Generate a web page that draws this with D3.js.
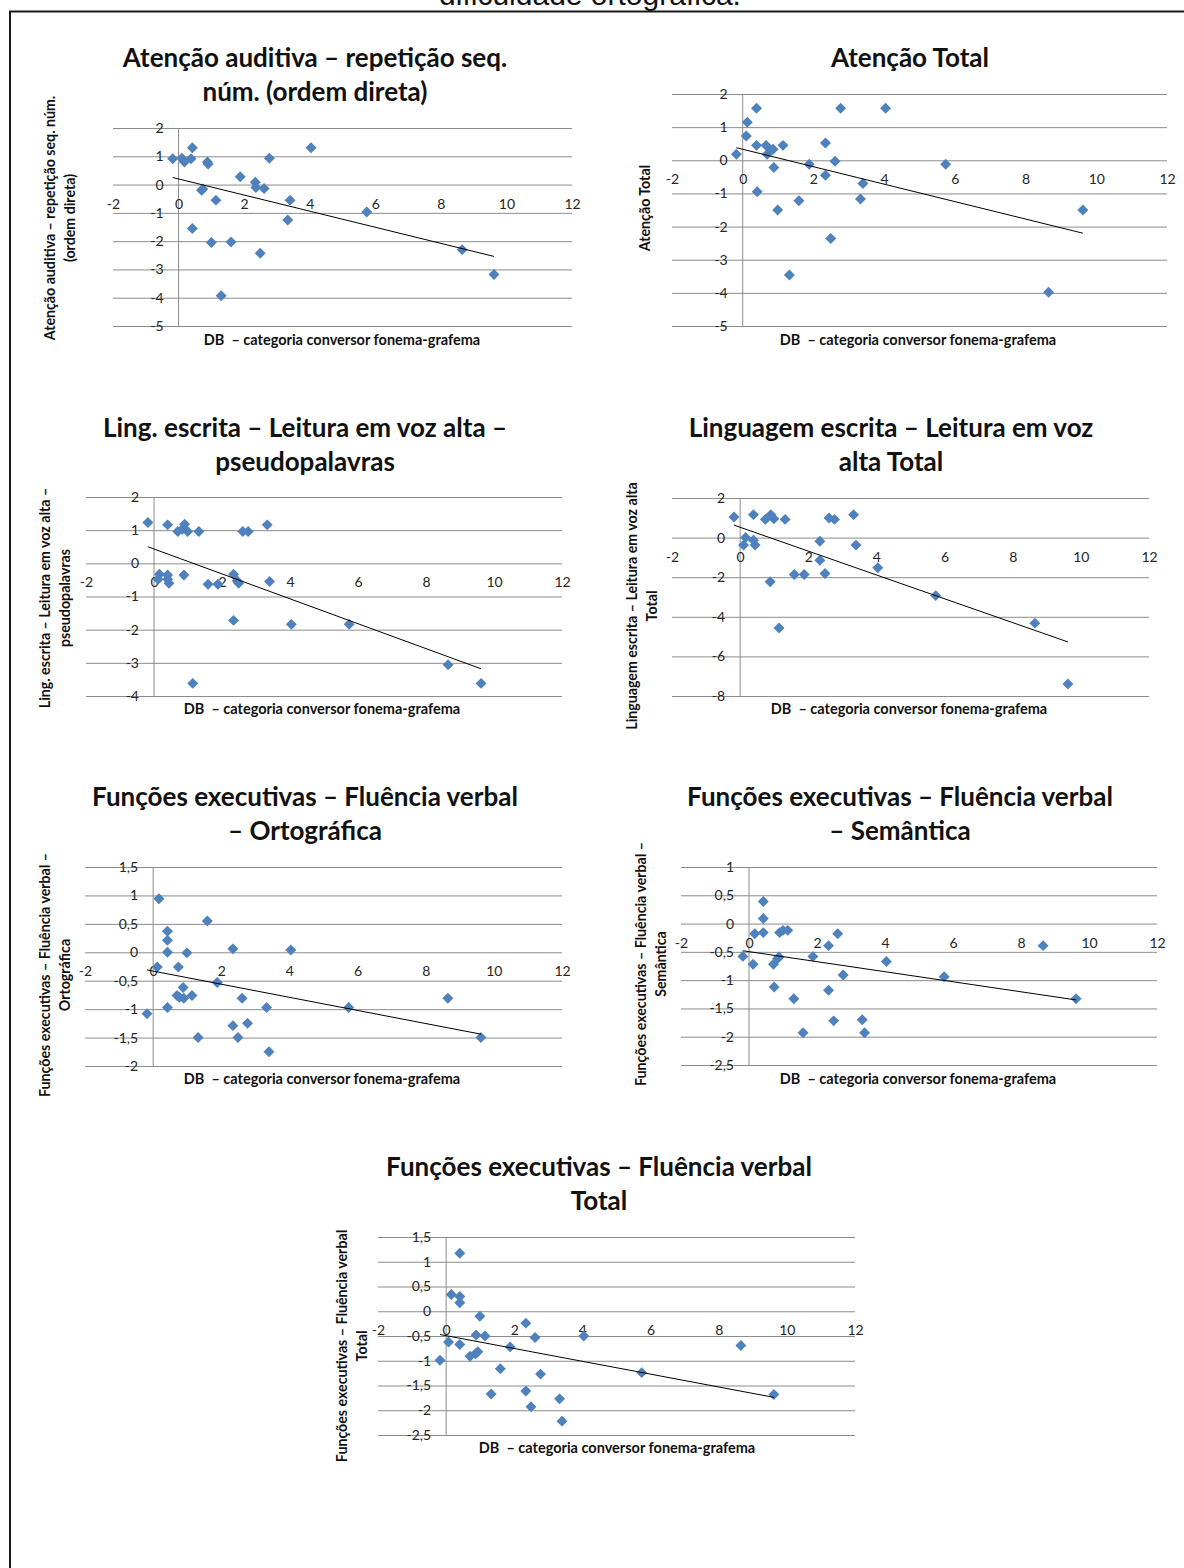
<!DOCTYPE html>
<html>
<head>
<meta charset="utf-8">
<script src="https://cdn.jsdelivr.net/npm/d3@7"></script>
<style>
  body { margin: 0; background: #fff; }
  svg text { font-family: Lato, "Open Sans", sans-serif; }
</style>
</head>
<body>
<svg id="chart" width="1184" height="1568"></svg>
<script>
// shared axis values
const xTicks = [-2, 0, 2, 4, 6, 8, 10, 12];
const xTitle = 'DB  \u2013 categoria conversor fonema-grafema';

// --- data: [DB, score] ---
const atencaoAuditiva = [[-0.18,0.91],[0.10,0.93],[0.18,0.80],[0.38,0.91],[0.42,1.30],[0.88,0.80],[0.90,0.73],[1.88,0.28],[2.34,0.08],[2.36,-0.10],[2.61,-0.14],[2.77,0.93],[4.04,1.30],[0.70,-0.20],[0.74,-0.16],[1.14,-0.55],[3.40,-0.55],[3.33,-1.25],[5.74,-0.97],[0.42,-1.55],[1.00,-2.05],[1.60,-2.03],[2.49,-2.43],[1.30,-3.93],[8.65,-2.30],[9.62,-3.18]];
const atencaoTotal = [[-0.18,0.18],[0.13,1.15],[0.10,0.73],[0.39,1.57],[0.39,0.45],[0.66,0.45],[0.69,0.18],[0.86,0.33],[0.80,0.30],[1.14,0.45],[0.88,-0.22],[0.41,-0.95],[0.99,-1.50],[1.32,-3.46],[1.59,-1.22],[1.88,-0.12],[2.34,0.52],[2.34,-0.45],[2.49,-2.36],[2.61,-0.03],[2.77,1.57],[3.33,-1.17],[3.40,-0.70],[4.04,1.57],[5.74,-0.12],[8.65,-3.98],[9.62,-1.50]];
const pseudopalavras = [[-0.18,1.23],[0.40,1.16],[0.70,0.96],[0.90,1.18],[0.83,1.03],[0.99,0.96],[1.32,0.96],[2.61,0.96],[2.77,0.96],[3.33,1.16],[0.16,-0.33],[0.12,-0.48],[0.40,-0.35],[0.44,-0.60],[0.40,-0.48],[0.88,-0.35],[1.59,-0.63],[1.88,-0.63],[2.34,-0.33],[2.45,-0.53],[2.49,-0.60],[3.40,-0.55],[2.34,-1.72],[4.04,-1.84],[5.74,-1.84],[1.14,-3.62],[8.65,-3.06],[9.62,-3.62]];
const leituraTotal = [[-0.18,1.04],[0.39,1.16],[0.74,0.92],[0.90,1.16],[0.99,0.95],[1.32,0.92],[2.61,0.99],[2.77,0.92],[3.33,1.16],[0.16,0.00],[0.10,-0.38],[0.39,-0.13],[0.44,-0.38],[2.34,-0.18],[3.40,-0.38],[2.34,-1.14],[4.04,-1.52],[1.59,-1.86],[1.88,-1.86],[2.49,-1.81],[0.88,-2.23],[1.14,-4.57],[5.74,-2.93],[8.65,-4.32],[9.62,-7.39]];
const ortografica = [[0.17,0.94],[1.59,0.55],[0.42,0.37],[0.42,0.21],[0.42,0.00],[0.99,-0.01],[2.34,0.06],[4.04,0.04],[0.12,-0.26],[0.74,-0.26],[1.88,-0.53],[0.88,-0.62],[0.70,-0.76],[0.77,-0.79],[0.90,-0.81],[1.14,-0.76],[2.61,-0.81],[0.42,-0.97],[3.33,-0.97],[5.74,-0.97],[8.65,-0.81],[-0.18,-1.08],[2.34,-1.29],[2.77,-1.25],[1.32,-1.50],[2.49,-1.50],[3.40,-1.75],[9.62,-1.50]];
const semantica = [[0.42,0.39],[0.42,0.09],[0.17,-0.18],[0.42,-0.16],[0.90,-0.16],[1.00,-0.12],[1.14,-0.12],[2.61,-0.18],[2.34,-0.39],[8.65,-0.39],[-0.18,-0.58],[0.12,-0.72],[0.72,-0.72],[0.84,-0.62],[0.88,-0.59],[1.88,-0.58],[4.04,-0.67],[2.77,-0.91],[5.74,-0.94],[0.74,-1.12],[1.32,-1.33],[2.34,-1.18],[9.62,-1.33],[2.49,-1.72],[3.33,-1.70],[1.59,-1.93],[3.40,-1.93]];
const fluenciaTotal = [[0.40,1.17],[0.15,0.34],[0.40,0.30],[0.40,0.17],[0.99,-0.10],[2.34,-0.24],[0.88,-0.48],[1.14,-0.50],[2.61,-0.53],[4.04,-0.50],[0.07,-0.62],[0.40,-0.67],[1.88,-0.72],[8.65,-0.69],[0.70,-0.91],[0.86,-0.86],[0.93,-0.82],[-0.18,-0.99],[1.59,-1.16],[2.77,-1.27],[5.74,-1.24],[1.32,-1.67],[2.34,-1.61],[2.49,-1.93],[3.33,-1.77],[3.40,-2.22],[9.62,-1.68]];

// linear trendlines (ends)
const trendAuditiva = [[-0.18,0.25],[9.62,-2.54]];
const trendAtencao = [[-0.18,0.38],[9.62,-2.20]];
const trendPseudo = [[-0.18,0.50],[9.62,-3.18]];
const trendLeitura = [[-0.18,0.63],[9.62,-5.27]];
const trendOrto = [[-0.18,-0.31],[9.62,-1.44]];
const trendSem = [[-0.18,-0.48],[9.62,-1.35]];
const trendFlu = [[-0.18,-0.47],[9.62,-1.74]];

// y tick values
const yTicksAtencao = [2, 1, 0, -1, -2, -3, -4, -5];
const yTicksPseudo = [2, 1, 0, -1, -2, -3, -4];
const yTicksLeitura = [2, 0, -2, -4, -6, -8];
const yTicksOrto = [1.5, 1, 0.5, 0, -0.5, -1, -1.5, -2];
const yTicksSem = [1, 0.5, 0, -0.5, -1, -1.5, -2, -2.5];
const yTicksFlu = [1.5, 1, 0.5, 0, -0.5, -1, -1.5, -2, -2.5];

// titles
const titleAuditiva = ['Atenção auditiva \u2013 repetição seq.', 'núm. (ordem direta)'];
const titleAtencao = ['Atenção Total'];
const titlePseudo = ['Ling. escrita \u2013 Leitura em voz alta \u2013', 'pseudopalavras'];
const titleLeitura = ['Linguagem escrita \u2013 Leitura em voz', 'alta Total'];
const titleOrto = ['Funções executivas \u2013 Fluência verbal', '\u2013 Ortográfica'];
const titleSem = ['Funções executivas \u2013 Fluência verbal', '\u2013 Semântica'];
const titleFlu = ['Funções executivas \u2013 Fluência verbal', 'Total'];

const yTitleAuditiva = ['Atenção auditiva \u2013 repetição seq. núm.', '(ordem direta)'];
const yTitleAtencao = ['Atenção Total'];
const yTitlePseudo = ['Ling. escrita \u2013 Leitura em voz alta \u2013', 'pseudopalavras'];
const yTitleLeitura = ['Linguagem escrita \u2013 Leitura em voz alta', 'Total'];
const yTitleOrto = ['Funções executivas \u2013 Fluência verbal \u2013', 'Ortográfica'];
const yTitleSem = ['Funções executivas \u2013 Fluência verbal \u2013', 'Semântica'];
const yTitleFlu = ['Funções executivas \u2013 Fluência verbal', 'Total'];

// layout of each panel
const charts = [
  { points: atencaoAuditiva, trend: trendAuditiva, yTicks: yTicksAtencao, title: titleAuditiva, yTitle: yTitleAuditiva,
    left: 113, right: 572, top: 128, bottom: 326, tx: 315, ty: 67, ytx: 50, yty: 218, xtx: 342, xty: 340 },
  { points: atencaoTotal, trend: trendAtencao, yTicks: yTicksAtencao, title: titleAtencao, yTitle: yTitleAtencao,
    left: 672, right: 1167, top: 94, bottom: 326, tx: 910, ty: 67, ytx: 645, yty: 208, xtx: 918, xty: 340 },
  { points: pseudopalavras, trend: trendPseudo, yTicks: yTicksPseudo, title: titlePseudo, yTitle: yTitlePseudo,
    left: 86, right: 562, top: 497, bottom: 696, tx: 305, ty: 437, ytx: 45, yty: 598, xtx: 322, xty: 709 },
  { points: leituraTotal, trend: trendLeitura, yTicks: yTicksLeitura, title: titleLeitura, yTitle: yTitleLeitura,
    left: 672, right: 1149, top: 498, bottom: 696, tx: 891, ty: 437, ytx: 632, yty: 606, xtx: 909, xty: 709 },
  { points: ortografica, trend: trendOrto, yTicks: yTicksOrto, title: titleOrto, yTitle: yTitleOrto,
    left: 85, right: 562, top: 867, bottom: 1066, tx: 305, ty: 806, ytx: 45, yty: 975, xtx: 322, xty: 1079 },
  { points: semantica, trend: trendSem, yTicks: yTicksSem, title: titleSem, yTitle: yTitleSem,
    left: 681, right: 1157, top: 867, bottom: 1065, tx: 900, ty: 806, ytx: 641, yty: 964, xtx: 918, xty: 1079 },
  { points: fluenciaTotal, trend: trendFlu, yTicks: yTicksFlu, title: titleFlu, yTitle: yTitleFlu,
    left: 378, right: 855, top: 1237, bottom: 1435, tx: 599, ty: 1176, ytx: 342, yty: 1346, xtx: 617, xty: 1448 }
];

const gridColor = '#8c8c8c';
const markColor = '#4f81bd';
const fmt = d => String(d).replace('.', ',');

const svg = d3.select('#chart');

// caption cut off at the top of the page, as in the source scan
svg.append('text')
  .attr('x', 590).attr('y', 5)
  .attr('text-anchor', 'middle')
  .attr('font-size', 30)
  .style('font-family', '"Liberation Sans", Arial, sans-serif')
  .attr('fill', '#111')
  .text('dificuldade ortográfica.');

svg.append('path')
  .attr('d', 'M10,1568V11.5H1184')
  .attr('fill', 'none')
  .attr('stroke', '#1a1a1a')
  .attr('stroke-width', 2);

function drawChart(c) {
  const x = d3.scaleLinear().domain([-2, 12]).range([c.left, c.right]);
  const y = d3.scaleLinear().domain([d3.min(c.yTicks), d3.max(c.yTicks)]).range([c.bottom, c.top]);
  const g = svg.append('g');

  // horizontal gridlines
  g.append('g')
    .attr('transform', `translate(${c.left},0)`)
    .call(d3.axisLeft(y).tickValues(c.yTicks).tickSize(-(c.right - c.left)).tickFormat(''))
    .call(a => a.select('.domain').remove())
    .selectAll('line').attr('stroke', gridColor);

  // vertical axis at x = 0
  g.append('line')
    .attr('x1', x(0)).attr('x2', x(0))
    .attr('y1', c.top).attr('y2', c.bottom)
    .attr('stroke', gridColor);

  // y labels beside the x=0 axis
  g.append('g')
    .attr('transform', `translate(${x(0)},0)`)
    .call(d3.axisLeft(y).tickValues(c.yTicks).tickSize(0).tickPadding(15).tickFormat(fmt))
    .call(a => a.select('.domain').remove())
    .attr('font-size', 14)
    .selectAll('text').attr('fill', '#262626');

  // x labels beside the y=0 axis
  g.append('g')
    .attr('transform', `translate(0,${y(0)})`)
    .call(d3.axisBottom(x).tickValues(xTicks).tickSize(0).tickPadding(14).tickFormat(fmt))
    .call(a => a.select('.domain').remove())
    .attr('font-size', 14)
    .selectAll('text').attr('fill', '#262626');

  // markers
  g.selectAll('path.pt').data(c.points).join('path')
    .attr('class', 'pt')
    .attr('d', d3.symbol(d3.symbolSquare, 60))
    .attr('transform', d => `translate(${x(d[0])},${y(d[1])}) rotate(45)`)
    .attr('fill', markColor);

  // trendline
  g.append('path')
    .attr('d', d3.line().x(d => x(d[0])).y(d => y(d[1]))(c.trend))
    .attr('fill', 'none')
    .attr('stroke', '#000')
    .attr('stroke-width', 1);

  // chart title
  c.title.forEach((t, i) => {
    g.append('text')
      .attr('x', c.tx).attr('y', c.ty + i * 34)
      .attr('text-anchor', 'middle')
      .attr('font-size', 26).attr('font-weight', 'bold')
      .attr('fill', '#111')
      .text(t);
  });

  // y title (rotated, two lines)
  c.yTitle.forEach((t, i) => {
    g.append('text')
      .attr('transform', `translate(${c.ytx + i * 20},${c.yty}) rotate(-90)`)
      .attr('dy', '0.35em')
      .attr('text-anchor', 'middle')
      .attr('font-size', 14.2).attr('font-weight', 'bold')
      .attr('fill', '#111')
      .text(t);
  });

  // x title
  g.append('text')
    .attr('x', c.xtx).attr('y', c.xty)
    .attr('dy', '0.35em')
    .attr('text-anchor', 'middle')
    .attr('font-size', 14.5).attr('font-weight', 'bold')
    .style('white-space', 'pre')
    .attr('fill', '#111')
    .text(xTitle);
}

charts.forEach(drawChart);
</script>
</body>
</html>
